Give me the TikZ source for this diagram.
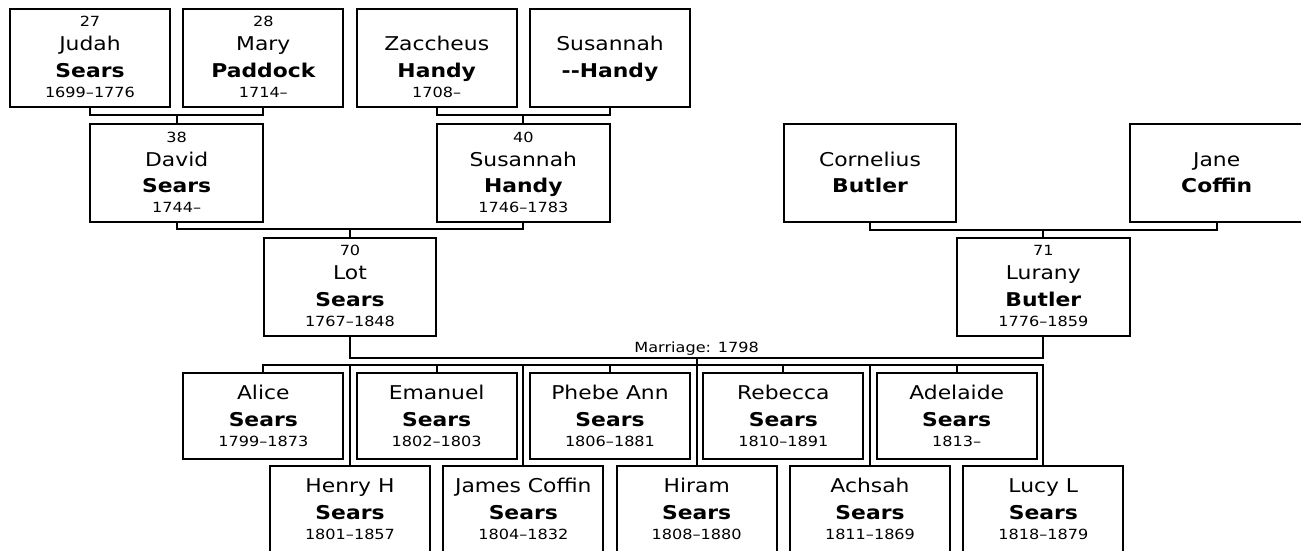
\documentclass[tikz,border=0pt]{standalone}
\usepackage{fontspec}
\setmainfont[FakeStretch=1.15]{DejaVu Sans}

\newcommand\numline[1]{\rule[-6pt]{0pt}{17.4pt}{\fontsize{14}{14}\selectfont#1}}
\newcommand\nameline[1]{\rule[-8.6pt]{0pt}{25.6pt}#1}
\newcommand\dateline[1]{\rule[-3.2pt]{0pt}{13.6pt}{\fontsize{14}{14}\selectfont#1}}
\newcommand\ancestor[4]{\numline{#1}\\\nameline{#2}\\\nameline{\bfseries#3}\\\dateline{#4}}
\newcommand\offspring[3]{\nameline{#1}\\\nameline{\bfseries#2}\\\dateline{#3}}

\tikzset{
  person/.style={rectangle, draw, line width=2pt, inner sep=0pt, align=center,
                 font=\fontsize{19}{1}\selectfont},
  anc/.style={person, minimum width=160pt, minimum height=98pt},
  single/.style={person, minimum width=172.5pt, minimum height=98pt},
  kid/.style={person, minimum width=160pt, minimum height=86pt},
  link/.style={line width=2pt},
  note/.style={font=\fontsize{14}{14}\selectfont, inner sep=1pt},
}

\begin{document}
\begin{tikzpicture}[x=1pt, y=-1pt]
  \path[use as bounding box, fill=white] (0,0) rectangle (1301,550);

  % grandparents
  \node[anc] (judah)    at (90,58)    {\ancestor{27}{Judah}{Sears}{1699–1776}};
  \node[anc] (mary)     at (263.3,58) {\ancestor{28}{Mary}{Paddock}{1714–}};
  \node[anc] (zaccheus) at (436.7,58) {\ancestor{}{Zaccheus}{Handy}{1708–}};
  \node[anc] (susannah) at (610,58)   {\ancestor{}{Susannah}{-{}-Handy}{}};

  % parents
  \node[single] (david)     at (176.7,173.3) {\ancestor{38}{David}{Sears}{1744–}};
  \node[single] (handy)     at (523.3,173.3) {\ancestor{40}{Susannah}{Handy}{1746–1783}};
  \node[single] (cornelius) at (870,173.3)   {\ancestor{}{Cornelius}{Butler}{}};
  \node[single] (jane)      at (1216.7,173.3) {\ancestor{}{Jane}{Coffin}{}};

  % couple
  \node[single] (lot)    at (350,287)    {\ancestor{70}{Lot}{Sears}{1767–1848}};
  \node[single] (lurany) at (1043.3,287) {\ancestor{71}{Lurany}{Butler}{1776–1859}};

  % children
  \node[kid] (alice)    at (263.3,416) {\offspring{Alice}{Sears}{1799–1873}};
  \node[kid] (emanuel)  at (436.7,416) {\offspring{Emanuel}{Sears}{1802–1803}};
  \node[kid] (phebe)    at (610,416)   {\offspring{Phebe Ann}{Sears}{1806–1881}};
  \node[kid] (rebecca)  at (783.3,416) {\offspring{Rebecca}{Sears}{1810–1891}};
  \node[kid] (adelaide) at (956.7,416) {\offspring{Adelaide}{Sears}{1813–}};

  \node[kid] (henry)  at (350,509)    {\offspring{Henry H}{Sears}{1801–1857}};
  \node[kid] (james)  at (523.3,509)  {\offspring{James Coffin}{Sears}{1804–1832}};
  \node[kid] (hiram)  at (696.7,509)  {\offspring{Hiram}{Sears}{1808–1880}};
  \node[kid] (achsah) at (870,509)    {\offspring{Achsah}{Sears}{1811–1869}};
  \node[kid] (lucy)   at (1043.3,509) {\offspring{Lucy L}{Sears}{1818–1879}};

  \draw[link] (judah.south) -- ++(0,7) coordinate (jm) -| (mary.south);
  \draw[link] (david.north) -- (david.north |- jm);
  \draw[link] (zaccheus.south) -- ++(0,7) coordinate (zs) -| (susannah.south);
  \draw[link] (handy.north) -- (handy.north |- zs);

  \draw[link] (david.south) -- ++(0,5.7) coordinate (dh) -| (handy.south);
  \draw[link] (lot.north) -- (lot.north |- dh);
  \draw[link] (cornelius.south) -- ++(0,6.4) coordinate (cj) -| (jane.south);
  \draw[link] (lurany.north) -- (lurany.north |- cj);

  \draw[link] (lot.south) -- ++(0,20.7) coordinate (mar)
    -| node[note, pos=0.25, above] (marr) {Marriage: 1798} (lurany.south);

  \draw[link] (alice.north) -- ++(0,-7) coordinate (kb) -| (lucy.north);
  \draw[link] (hiram.north) -- (hiram.north |- mar);
  \foreach \kid in {emanuel,phebe,rebecca,adelaide,henry,james,achsah}
    \draw[link] (\kid.north) -- (\kid.north |- kb);
\end{tikzpicture}
\end{document}
